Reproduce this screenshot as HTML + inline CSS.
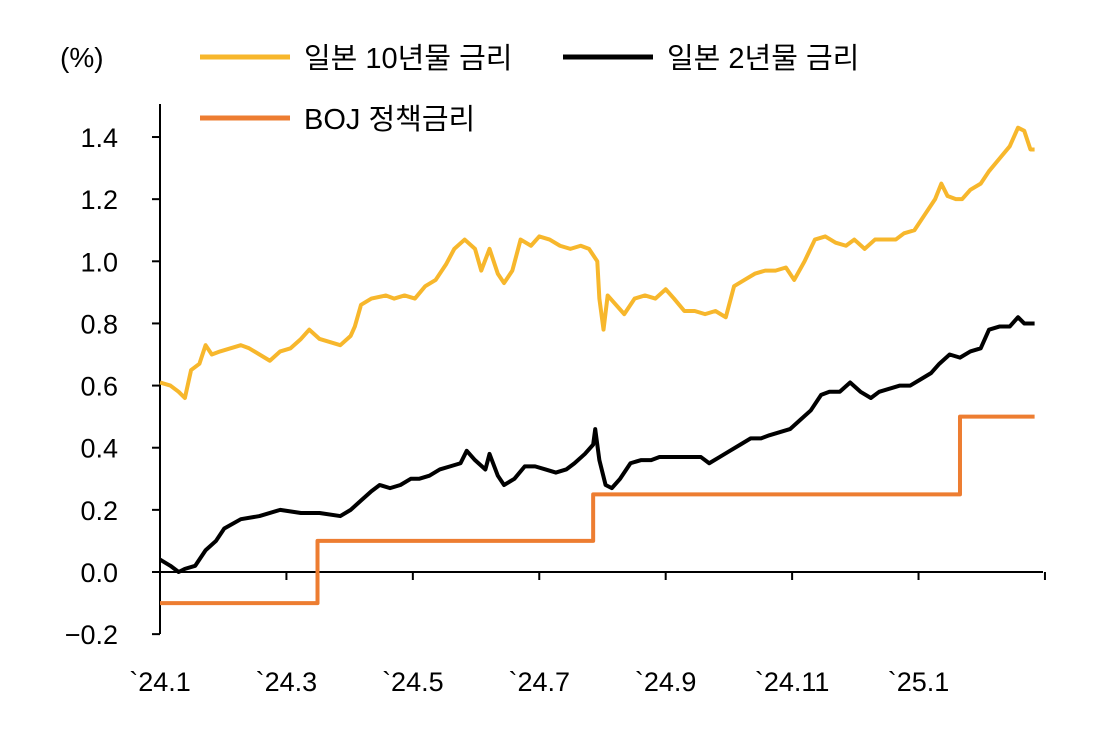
<!DOCTYPE html>
<html><head><meta charset="utf-8"><style>
html,body{margin:0;padding:0;background:#fff;}
svg text{font-family:"Liberation Sans","Noto Sans CJK KR",sans-serif;}
</style></head><body>
<svg id="chart" width="1104" height="740" xmlns="http://www.w3.org/2000/svg">
<g id="axes"></g>
<g id="series"></g>
<g id="legend">
  <text x="60" y="67" font-size="28" fill="#000">(%)</text>
  <line x1="200" y1="57" x2="290" y2="57" stroke="#F7B72C" stroke-width="5"/>
  <text x="304" y="68" font-size="29">일본 10년물 금리</text>
  <line x1="563" y1="57" x2="653" y2="57" stroke="#000" stroke-width="5"/>
  <text x="667" y="68" font-size="29">일본 2년물 금리</text>
  <line x1="200" y1="118" x2="290" y2="118" stroke="#ED7D31" stroke-width="5"/>
  <text x="304" y="129" font-size="29">BOJ 정책금리</text>
</g>
</svg>
<script>
const yTicks=[-0.2,0,0.2,0.4,0.6,0.8,1.0,1.2,1.4];
const yTickLabels=["\u22120.2","0.0","0.2","0.4","0.6","0.8","1.0","1.2","1.4"];
const xTickDays=[0,61,122,183,244,305,366];
const xTickLabels=["`24.1","`24.3","`24.5","`24.7","`24.9","`24.11","`25.1"];
const jgb10Days=[0,5,9,12,15,19,22,25,29,34,39,43,48,53,58,63,68,72,77,82,87,92,94,97,102,109,113,118,123,128,133,138,142,147,152,155,159,163,166,170,174,179,183,188,193,198,203,207,211,212,214,216,220,224,229,234,239,244,248,253,258,263,268,273,277,282,287,292,297,302,306,311,316,321,326,331,335,340,345,350,355,359,364,369,374,377,380,384,387,391,396,400,405,410,414,417,420,422];
const jgb10Values=[0.61,0.60,0.58,0.56,0.65,0.67,0.73,0.70,0.71,0.72,0.73,0.72,0.70,0.68,0.71,0.72,0.75,0.78,0.75,0.74,0.73,0.76,0.79,0.86,0.88,0.89,0.88,0.89,0.88,0.92,0.94,0.99,1.04,1.07,1.04,0.97,1.04,0.96,0.93,0.97,1.07,1.05,1.08,1.07,1.05,1.04,1.05,1.04,1.00,0.88,0.78,0.89,0.86,0.83,0.88,0.89,0.88,0.91,0.88,0.84,0.84,0.83,0.84,0.82,0.92,0.94,0.96,0.97,0.97,0.98,0.94,1.00,1.07,1.08,1.06,1.05,1.07,1.04,1.07,1.07,1.07,1.09,1.10,1.15,1.20,1.25,1.21,1.20,1.20,1.23,1.25,1.29,1.33,1.37,1.43,1.42,1.36,1.36];
const jgb2Days=[0,5,9,12,17,22,27,31,39,48,58,68,77,87,92,97,102,106,111,116,121,125,130,135,140,145,148,152,157,159,163,166,171,176,181,186,191,196,200,205,209,210,212,215,218,222,227,232,237,241,246,251,256,261,265,270,275,280,285,290,294,299,304,309,314,319,323,328,333,338,343,347,352,357,362,367,372,376,381,386,391,396,400,405,410,414,417,422];
const jgb2Values=[0.04,0.02,0,0.01,0.02,0.07,0.10,0.14,0.17,0.18,0.20,0.19,0.19,0.18,0.20,0.23,0.26,0.28,0.27,0.28,0.30,0.30,0.31,0.33,0.34,0.35,0.39,0.36,0.33,0.38,0.31,0.28,0.30,0.34,0.34,0.33,0.32,0.33,0.35,0.38,0.41,0.46,0.36,0.28,0.27,0.30,0.35,0.36,0.36,0.37,0.37,0.37,0.37,0.37,0.35,0.37,0.39,0.41,0.43,0.43,0.44,0.45,0.46,0.49,0.52,0.57,0.58,0.58,0.61,0.58,0.56,0.58,0.59,0.60,0.60,0.62,0.64,0.67,0.70,0.69,0.71,0.72,0.78,0.79,0.79,0.82,0.80,0.80];
const bojDays=[0,76,209,386,422];
const bojValues=[-0.1,0.1,0.25,0.5,0.5];

const NS="http://www.w3.org/2000/svg";
const xs=d=>160+d*2.0725;
const ys=v=>572-v*310.7;
function mk(tag,attrs,parent){const e=document.createElementNS(NS,tag);for(const k in attrs)e.setAttribute(k,attrs[k]);parent.appendChild(e);return e;}
const axes=document.getElementById('axes'),series=document.getElementById('series');
let yl=mk('line',{x1:160,y1:104,x2:160,y2:634,stroke:'#000','stroke-width':2},axes);


yTicks.forEach((t,i)=>{
  let tk=mk('line',{x1:152,x2:160,y1:ys(t),y2:ys(t),stroke:'#000','stroke-width':2},axes);
  
  
  let tx=mk('text',{x:118,y:ys(t)+10,'font-size':27,'text-anchor':'end'},axes);
  tx.textContent=yTickLabels[i];
  
  
});
let xl=mk('line',{x1:160,y1:ys(0),x2:1043,y2:ys(0),stroke:'#000','stroke-width':2},axes);


xTickDays.concat([427]).forEach(d=>{
  let tk=mk('line',{x1:xs(d),x2:xs(d),y1:ys(0),y2:ys(0)+8,stroke:'#000','stroke-width':2},axes);
  
  
});
xTickDays.forEach((d,i)=>{
  let tx=mk('text',{x:xs(d),y:691,'font-size':27,'text-anchor':'middle'},axes);
  tx.textContent=xTickLabels[i];
  
  
});
function line(days,vals,color,name,step){
  const n=Math.min(days.length,vals.length);let p='';
  for(let i=0;i<n;i++){
    if(i===0)p+='M'+xs(days[i])+','+ys(vals[i]);
    else if(step)p+='L'+xs(days[i])+','+ys(vals[i-1])+'L'+xs(days[i])+','+ys(vals[i]);
    else p+='L'+xs(days[i])+','+ys(vals[i]);
  }
  let e=mk('path',{d:p,fill:'none',stroke:color,'stroke-width':4,'stroke-linejoin':'round'},series);
  
  
}
line(bojDays,bojValues,'#ED7D31','boj-policy-rate-line',true);
line(jgb10Days,jgb10Values,'#F7B72C','jgb10-line',false);
line(jgb2Days,jgb2Values,'#000','jgb2-line',false);
</script>
</body></html>
